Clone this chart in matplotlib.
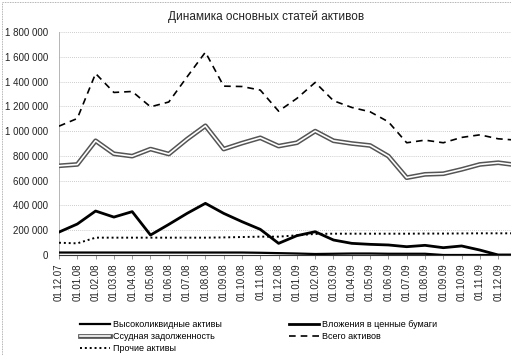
import matplotlib
matplotlib.use('Agg')
import matplotlib.pyplot as plt
import matplotlib.patheffects as pe
from matplotlib.ticker import FuncFormatter, MultipleLocator
import numpy as np

plt.rcParams['font.family'] = ['Liberation Sans', 'DejaVu Sans']

# monthly dates, last one lies beyond the visible edge of the chart
dates = ['01.12.07', '01.01.08', '01.02.08', '01.03.08', '01.04.08', '01.05.08',
         '01.06.08', '01.07.08', '01.08.08', '01.09.08', '01.10.08', '01.11.08',
         '01.12.08', '01.01.09', '01.02.09', '01.03.09', '01.04.09', '01.05.09',
         '01.06.09', '01.07.09', '01.08.09', '01.09.09', '01.10.09', '01.11.09',
         '01.12.09', '01.01.10']

high_liquid = [20000, 20000, 20000, 20000, 20000, 20000, 20000, 20000, 20000, 20000,
               20000, 18000, 15000, 12000, 8000, 10000, 12000, 12000, 10000, 10000,
               10000, 0, 0, 0, 0, 0]
securities = [185000, 250000, 355000, 306000, 350000, 161000, 247000, 336000, 417000,
              336000, 269000, 207000, 94000, 156000, 188000, 121000, 94000, 86000,
              81000, 67000, 78000, 59000, 73000, 40000, 0, 0]
loans = [720000, 731000, 922000, 817000, 798000, 855000, 815000, 935000, 1043000,
         855000, 903000, 946000, 879000, 906000, 1000000, 922000, 900000, 884000,
         798000, 624000, 651000, 656000, 691000, 731000, 745000, 726000]
total = [1040000, 1102000, 1465000, 1312000, 1320000, 1196000, 1235000, 1438000,
         1637000, 1363000, 1360000, 1331000, 1161000, 1264000, 1393000, 1245000,
         1191000, 1156000, 1075000, 906000, 927000, 906000, 949000, 970000, 938000,
         927000]
other = [99000, 94000, 140000, 140000, 140000, 140000, 140000, 140000, 140000,
         142000, 145000, 148000, 148000, 159000, 170000, 172000, 172000, 172000,
         172000, 172000, 173000, 173000, 174000, 175000, 175000, 175000]

x = np.arange(len(dates))

fig = plt.figure(figsize=(5.11, 3.55), dpi=100)
ax = fig.add_axes([59 / 511, 100 / 355, 452 / 511, 223 / 355])

ax.plot(x, high_liquid, color='black', lw=1.6, label='Высоколиквидные активы', zorder=4)
ax.plot(x, loans, color='white', lw=1.2, label='Ссудная задолженность', zorder=3,
        path_effects=[pe.Stroke(linewidth=3.4, foreground='#555555'), pe.Normal()])
ax.plot(x, other, color='black', lw=1.4, ls=(0, (1, 1.5)), label='Прочие активы', zorder=3)
ax.plot(x, securities, color='black', lw=2.0, label='Вложения в ценные бумаги', zorder=5)
ax.plot(x, total, color='black', lw=1.2, ls=(0, (4, 3)), label='Всего активов', zorder=3)

ax.set_xlim(0, 24.7)
ax.set_ylim(0, 1800000)
ax.yaxis.set_major_locator(MultipleLocator(200000))
ax.yaxis.set_major_formatter(FuncFormatter(lambda v, p: '{:,.0f}'.format(v).replace(',', ' ')))
ax.set_xticks(x[:25])
ax.set_xticklabels(dates[:25], rotation=90, fontsize=7, color='#222222')
ax.tick_params(axis='y', labelsize=7, length=0, pad=8, labelcolor='#222222')
ax.tick_params(axis='x', length=3, width=0.6, color='#888888', pad=3)

ax.grid(axis='y', color='#bbbbbb', lw=0.6, ls=(0, (1, 1.5)))
ax.set_axisbelow(True)
for s in ['top', 'right']:
    ax.spines[s].set_visible(False)
ax.spines['left'].set_color('#aaaaaa')
ax.spines['left'].set_linewidth(0.6)
ax.spines['bottom'].set_color('#333333')
ax.spines['bottom'].set_linewidth(0.8)

fig.text(0.52, 0.952, 'Динамика основных статей активов', ha='center', va='center',
         fontsize=8.5, color='#222222')

leg = fig.legend(loc='lower left', bbox_to_anchor=(76 / 511, -0.005), ncol=2, frameon=False,
                 fontsize=6.5, handlelength=3.4, handletextpad=0.3, columnspacing=7.4,
                 labelspacing=0.35, borderaxespad=0.0)

# thin frame of the chart area
fig.patches.append(plt.Rectangle((0.004, 0.0), 1.2, 0.995, transform=fig.transFigure,
                                 fill=False, ec='#999999', lw=0.6, ls=(0, (1, 1))))

fig.savefig('out.png', dpi=100)
